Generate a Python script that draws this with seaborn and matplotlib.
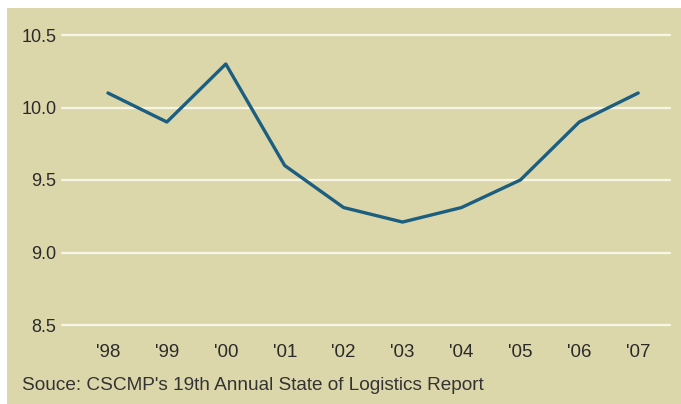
import matplotlib
matplotlib.use("Agg")
import matplotlib.pyplot as plt
import seaborn as sns
import pandas as pd
from matplotlib.patches import Rectangle

years = [1998, 1999, 2000, 2001, 2002, 2003, 2004, 2005, 2006, 2007]
values = [10.1, 9.9, 10.3, 9.6, 9.31, 9.21, 9.31, 9.5, 9.9, 10.1]
year_labels = ["'98", "'99", "'00", "'01", "'02", "'03", "'04", "'05", "'06", "'07"]
y_ticks = [8.5, 9.0, 9.5, 10.0, 10.5]
source = "Souce: CSCMP's 19th Annual State of Logistics Report"

bg = "#DCD7AB"
line_color = "#1B5E7F"

sns.set_theme(style="white")
plt.rcParams['font.family'] = ['Liberation Sans', 'DejaVu Sans']

fig = plt.figure(figsize=(6.81, 4.04), dpi=100, facecolor=bg)
# white strips at left and top edges
fig.patches.append(Rectangle((0, 0), 7/681, 1, transform=fig.transFigure,
                             facecolor="white", edgecolor="none"))
fig.patches.append(Rectangle((0, 1 - 8/404), 1, 8/404, transform=fig.transFigure,
                             facecolor="white", edgecolor="none"))

ax = fig.add_axes([62/681, 79/404, (670-62)/681, 290/404])
ax.set_facecolor(bg)

df = pd.DataFrame({"year": years, "value": values})
sns.lineplot(data=df, x="year", y="value", ax=ax, color=line_color, linewidth=2.4, zorder=3)

ax.set_xlim(1997.22, 2007.54)
ax.set_ylim(8.5, 10.5)
ax.set_yticks(y_ticks)
ax.set_yticklabels([f"{v:.1f}" for v in y_ticks], fontsize=13, color="#2a2a2a")
ax.set_xticks(years)
ax.set_xticklabels(year_labels, fontsize=13.5, color="#2a2a2a")
ax.tick_params(axis="y", length=0, pad=4)
ax.tick_params(axis="x", length=0, pad=14)
for y in y_ticks:
    ax.axhline(y, color="#F7F5E6", linewidth=1.6, zorder=1, clip_on=False)
for s in ax.spines.values():
    s.set_visible(False)
ax.grid(False)
ax.set_xlabel("")
ax.set_ylabel("")

fig.text(22/681, 1 - 385/404, source, fontsize=13.7, color="#333333", va="center", ha="left")

fig.savefig("out.png", dpi=100, facecolor=fig.get_facecolor())
